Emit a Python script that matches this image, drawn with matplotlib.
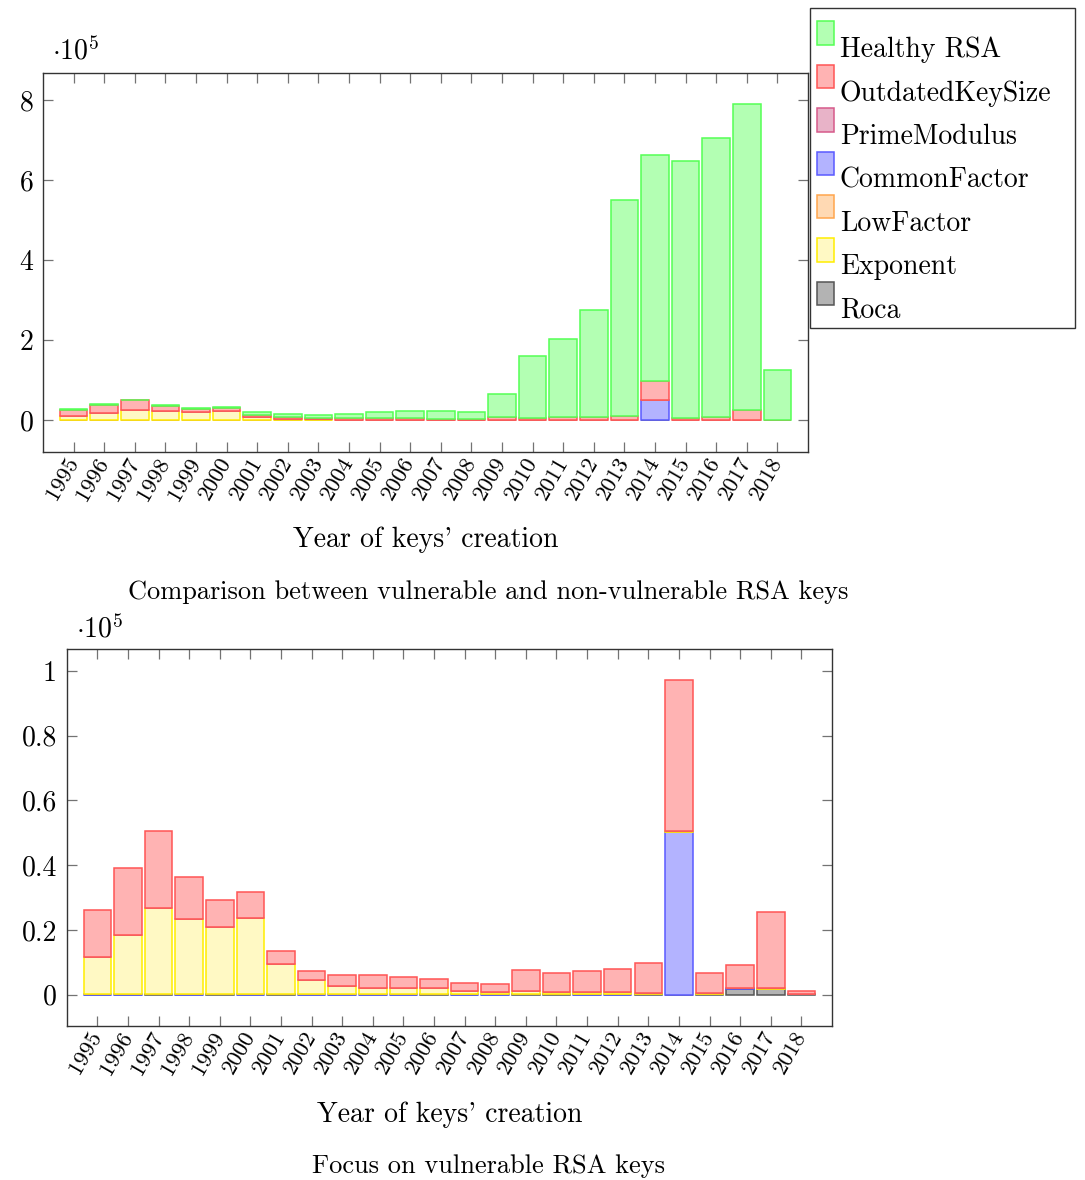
import matplotlib
matplotlib.use('Agg')
import matplotlib.pyplot as plt
from matplotlib.patches import Rectangle
from matplotlib.container import BarContainer
from matplotlib.legend_handler import HandlerPatch, update_from_first_child
from matplotlib.ticker import FuncFormatter

plt.rcParams['font.family'] = 'serif'
plt.rcParams['font.serif'] = ['cmr10']
plt.rcParams['mathtext.fontset'] = 'cm'
plt.rcParams['axes.formatter.use_mathtext'] = True
plt.rcParams['axes.unicode_minus'] = False

SCALE = 1e5

years = list(range(1995, 2019))
year_labels = [str(y) for y in years]

# number of keys per creation year
healthy = [1500, 1700, 1100, 1700, 1700, 1300, 7400, 8600, 7400, 9600,
           15400, 17600, 18800, 18700, 58500, 153400, 196000, 267000,
           541000, 565000, 640000, 696000, 763000, 124000]
outdated = [14250, 20750, 23950, 13050, 8450, 7950, 4050, 2750, 3150, 4150,
            3350, 2950, 2650, 2450, 6450, 5750, 6450, 7250, 9450, 46600,
            6350, 6900, 23300, 950]
prime_modulus = [0] * 24
common_factor = [50, 50, 0, 50, 0, 50, 0, 50, 50, 50, 50, 0, 50, 50, 0, 0,
                 50, 50, 0, 50200, 0, 300, 0, 0]
low_factor = [0, 0, 0, 0, 0, 0, 50, 50, 50, 0, 0, 0, 0, 0, 0, 50, 50, 50,
              0, 0, 0, 0, 0, 0]
exponent = [11700, 18300, 26600, 23200, 20800, 23700, 9300, 4400, 2700,
            2000, 2000, 1900, 1000, 800, 1000, 800, 600, 600, 400, 300, 400,
            0, 300, 100]
roca = [0, 0, 50, 0, 50, 0, 50, 0, 0, 0, 0, 50, 0, 0, 50, 50, 0, 0, 50, 0,
        50, 1800, 1800, 50]

names = ['Healthy RSA', 'OutdatedKeySize', 'PrimeModulus', 'CommonFactor',
         'LowFactor', 'Exponent', 'Roca']
fills = ['#b3ffb3', '#ffb3b3', '#e8b3c8', '#b3b3ff', '#ffd9b3', '#fff9c4', '#b3b3b3']
edges = ['#55ff55', '#ff5555', '#d65a8a', '#5a5aff', '#ffa64d', '#ffee00', '#555555']
all_series = [healthy, outdated, prime_modulus, common_factor, low_factor,
              exponent, roca]


def legend_patch(legend, orig_handle, xdescent, ydescent, width, height, fontsize):
    # pgfplots puts the bar icon above the text baseline
    return Rectangle((-xdescent, -ydescent + 0.62 * height), width, height)


def draw_stack(ax, order, ylim, yticks, fmt, label_y):
    bottom = [0.0] * len(years)
    bars = {}
    for i in order:
        vals = [v / SCALE for v in all_series[i]]
        bars[names[i]] = ax.bar(years, vals, width=0.9, bottom=bottom,
                                color=fills[i], edgecolor=edges[i],
                                linewidth=1.1, label=names[i])
        bottom = [b + v for b, v in zip(bottom, vals)]
    ax.set_xlim(1994, 2019)
    ax.set_ylim(*ylim)
    ax.set_xticks(years)
    ax.set_xticklabels(year_labels, rotation=60, rotation_mode='anchor',
                       ha='right', va='center', fontsize=16.5)
    ax.set_yticks(yticks)
    ax.yaxis.set_major_formatter(FuncFormatter(fmt))
    ax.tick_params(axis='both', direction='in', length=7, width=0.9,
                   color='0.45', top=True, right=True)
    ax.tick_params(axis='y', labelsize=20, pad=7)
    ax.tick_params(axis='x', pad=5)
    for s in ax.spines.values():
        s.set_color('0.2')
        s.set_linewidth(1.0)
    ax.set_xlabel("Year of keys' creation", fontsize=20, va='center')
    ax.xaxis.set_label_coords(0.5, label_y)
    return bars


fig = plt.figure(figsize=(10.85, 11.8), dpi=100)

# stacked bottom -> top
order = [6, 3, 4, 5, 2, 1, 0]

ax1 = fig.add_axes([43 / 1085, 1 - 452 / 1180, 765 / 1085, 379 / 1180])
bars1 = draw_stack(ax1, order, (-0.79, 8.67), [0, 2, 4, 6, 8],
                   lambda v, p: '%d' % v, -0.232)
fig.text(52 / 1085, 1 - 66 / 1180, r'$\cdot 10^5$', fontsize=20,
         ha='left', va='bottom')

# legend frame drawn separately so the icons can sit above the labels
fig.patches.append(Rectangle((810 / 1085, 1 - 328 / 1180), 265 / 1085, 320 / 1180,
                             transform=fig.transFigure, facecolor='white',
                             edgecolor='0.2', linewidth=1.0, zorder=5))
leg = fig.legend([bars1[n] for n in names], names, loc='upper left',
                 bbox_to_anchor=(817 / 1085, 1 - 36 / 1180),
                 borderaxespad=0, borderpad=0,
                 fontsize=20, frameon=False,
                 handlelength=0.62, handleheight=0.92,
                 handletextpad=0.2, labelspacing=0.58,
                 handler_map={BarContainer: HandlerPatch(
                     patch_func=legend_patch,
                     update_func=update_from_first_child)})
leg.set_zorder(6)

fig.text(488 / 1085, 1 - 592 / 1180,
         'Comparison between vulnerable and non-vulnerable RSA keys',
         fontsize=19, ha='center', va='center')

ax2 = fig.add_axes([66.7 / 1085, 1 - 1026 / 1180, 765.3 / 1085, 377 / 1180])
draw_stack(ax2, [6, 3, 4, 5, 2, 1], (-0.097, 1.068),
           [0, 0.2, 0.4, 0.6, 0.8, 1.0], lambda v, p: '%g' % v, -0.236)
fig.text(76 / 1085, 1 - 643 / 1180, r'$\cdot 10^5$', fontsize=20,
         ha='left', va='bottom')

fig.text(488 / 1085, 1 - 1166 / 1180, 'Focus on vulnerable RSA keys',
         fontsize=19, ha='center', va='center')

fig.savefig('out.png', dpi=100)
